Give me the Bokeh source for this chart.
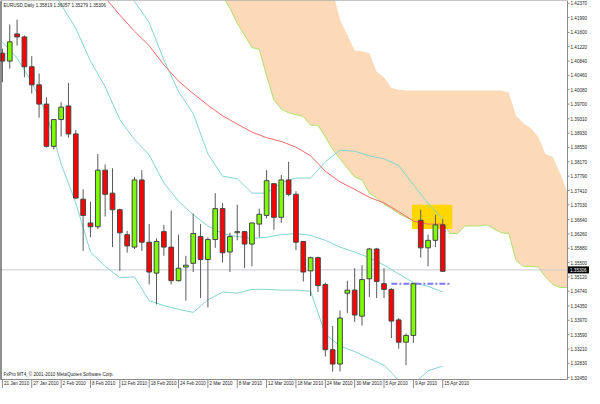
from bokeh.plotting import figure
from bokeh.models import Range1d, ColumnDataSource
from bokeh.core.properties import value
from bokeh.embed import file_html
from bokeh.resources import INLINE

# ---------------- data ----------------
symbol_title = "EURUSD,Daily  1.35819 1.36057 1.35279 1.35306"
copyright_text = "FxPro MT4, \u00a9 2001-2010 MetaQuotes Software Corp."
bid = 1.35306

date_labels = ["21 Jan 2010", "27 Jan 2010", "2 Feb 2010", "8 Feb 2010", "12 Feb 2010",
               "18 Feb 2010", "24 Feb 2010", "2 Mar 2010", "8 Mar 2010", "12 Mar 2010",
               "18 Mar 2010", "24 Mar 2010", "30 Mar 2010", "5 Apr 2010", "9 Apr 2010",
               "15 Apr 2010"]
date_ticks = [0, 4, 8, 12, 16, 20, 24, 28, 32, 36, 40, 44, 48, 52, 56, 60]

price_ticks = [1.42370, 1.41990, 1.41600, 1.41220, 1.40840, 1.40460, 1.40080, 1.39700,
               1.39310, 1.38930, 1.38550, 1.38170, 1.37790, 1.37410, 1.37030, 1.36640,
               1.36260, 1.35880, 1.35500, 1.35120, 1.34740, 1.34350, 1.33970, 1.33590,
               1.33210, 1.32830, 1.32450]

opens = [1.4105, 1.4084, 1.4156, 1.4148, 1.4069, 1.4021, 1.3970, 1.3858, 1.3929, 1.3965,
         1.3891, 1.3718, 1.3655, 1.3645, 1.3795, 1.3734, 1.3690, 1.3624, 1.3591, 1.3769,
         1.3604, 1.3522, 1.3632, 1.3591, 1.3502, 1.3538, 1.3548, 1.3619, 1.3558, 1.3611,
         1.3693, 1.3578, 1.3629, 1.3632, 1.3599, 1.3652, 1.3675, 1.3759, 1.3670, 1.3769,
         1.3731, 1.3606, 1.3528, 1.3563, 1.3492, 1.3319, 1.3281, 1.3469, 1.3477, 1.3408,
         1.3507, 1.3586, 1.3494, 1.3479, 1.3398, 1.3339, 1.3357, 1.3662, 1.3589, 1.3609,
         1.3650]
highs = [1.4117, 1.4181, 1.4194, 1.4152, 1.4097, 1.4051, 1.3988, 1.3930, 1.3975, 1.4026,
         1.3901, 1.3744, 1.3711, 1.3838, 1.3810, 1.3800, 1.3693, 1.3634, 1.3777, 1.3795,
         1.3652, 1.3614, 1.3650, 1.3688, 1.3624, 1.3568, 1.3680, 1.3652, 1.3617, 1.3734,
         1.3708, 1.3629, 1.3703, 1.3634, 1.3655, 1.3693, 1.3795, 1.3760, 1.3782, 1.3817,
         1.3739, 1.3607, 1.3566, 1.3566, 1.3497, 1.3382, 1.3423, 1.3502, 1.3535, 1.3543,
         1.3589, 1.3589, 1.3535, 1.3482, 1.3403, 1.3362, 1.3494, 1.3690, 1.3624, 1.3677,
         1.3665]
lows = [1.4028, 1.4064, 1.4125, 1.4041, 1.3998, 1.3934, 1.3855, 1.3850, 1.3884, 1.3881,
        1.3718, 1.3581, 1.3617, 1.3639, 1.3672, 1.3591, 1.3528, 1.3576, 1.3586, 1.3581,
        1.3492, 1.3439, 1.3568, 1.3492, 1.3500, 1.3449, 1.3525, 1.3456, 1.3431, 1.3589,
        1.3550, 1.3525, 1.3609, 1.3535, 1.3540, 1.3617, 1.3667, 1.3637, 1.3655, 1.3726,
        1.3583, 1.3500, 1.3461, 1.3472, 1.3301, 1.3261, 1.3261, 1.3416, 1.3393, 1.3383,
        1.3459, 1.3456, 1.3456, 1.3350, 1.3322, 1.3278, 1.3337, 1.3563, 1.3540, 1.3591,
        1.3525]
closes = [1.4084, 1.4135, 1.4148, 1.4069, 1.4021, 1.3970, 1.3858, 1.3929, 1.3962, 1.3891,
          1.3721, 1.3675, 1.3645, 1.3795, 1.3731, 1.3690, 1.3629, 1.3594, 1.3769, 1.3604,
          1.3525, 1.3606, 1.3591, 1.3502, 1.3535, 1.3543, 1.3627, 1.3558, 1.3611, 1.3693,
          1.3576, 1.3619, 1.3632, 1.3599, 1.3655, 1.3678, 1.3767, 1.3670, 1.3769, 1.3731,
          1.3604, 1.3525, 1.3563, 1.3489, 1.3319, 1.3281, 1.3403, 1.3477, 1.3411, 1.3505,
          1.3586, 1.3500, 1.3479, 1.3395, 1.3339, 1.3357, 1.3494, 1.3589, 1.3609, 1.3650,
          1.3527]

nan = float("nan")
band_idx = [0, 2, 4, 6, 8, 10, 12, 14, 16, 18, 20, 22, 24, 26, 28, 30,
            32, 34, 36, 38, 40, 42, 44, 46, 48, 50, 52, 54, 56, 58, 60]
bb_lower = [1.4135, 1.4092, 1.4028, 1.3945, 1.3812, 1.3708, 1.3578, 1.3540, 1.3510, 1.3512,
            1.3449, 1.3436, 1.3426, 1.3418, 1.3451, 1.3472, 1.3469, 1.3479, 1.3479, 1.3477,
            1.3477, 1.3474, 1.3360, 1.3329, 1.3314, 1.3296, 1.3278, 1.3238, 1.3227, 1.3263,
            1.3276]
bb_middle = [nan, nan, nan, 1.4296, 1.4234, 1.4171, 1.4084, 1.4016, 1.3929, 1.3876,
             1.3835, 1.3761, 1.3713, 1.3677, 1.3647, 1.3627, 1.3619, 1.3614, 1.3617, 1.3624,
             1.3627, 1.3622, 1.3609, 1.3591, 1.3578, 1.3563, 1.3543, 1.3520, 1.3497, 1.3487,
             1.3472]
bb_upper = [nan, nan, nan, nan, nan, nan, nan, nan, 1.4296, 1.4242,
            1.4186, 1.4087, 1.4003, 1.3945, 1.3838, 1.3779, 1.3772, 1.3734, 1.3734, 1.3761,
            1.3774, 1.3774, 1.3817, 1.3848, 1.3845, 1.3833, 1.3825, 1.3807, 1.3756, 1.3708,
            1.3665]
ma_red = [nan, nan, nan, nan, nan, nan, nan, 1.4252, 1.4206, 1.4163,
          1.4125, 1.4074, 1.4031, 1.3998, 1.3967, 1.3939, 1.3917, 1.3896, 1.3881, 1.3871,
          1.3856, 1.3833, 1.3792, 1.3764, 1.3744, 1.3723, 1.3708, 1.3685, 1.3660, 1.3652,
          1.3652]

cloud_idx = [30, 31, 32, 33, 34, 35, 36, 37, 38, 39, 40, 41, 42, 43, 44, 45,
             46, 47, 48, 49, 50, 51, 52, 53, 54, 55, 56, 57, 58, 59, 60, 61,
             62, 63, 64, 65, 66, 67, 68, 69, 70, 71, 72, 73, 74, 75, 76, 77]
cloud_lower = [1.4257, 1.4224, 1.4184, 1.4153, 1.4120, 1.4115, 1.4046, 1.3980, 1.3957, 1.3947,
               1.3942, 1.3937, 1.3914, 1.3914, 1.3883, 1.3850, 1.3825, 1.3800, 1.3777, 1.3769,
               1.3734, 1.3721, 1.3705, 1.3693, 1.3680, 1.3670, 1.3662, 1.3660, 1.3660, 1.3660,
               1.3657, 1.3627, 1.3627, 1.3647, 1.3647, 1.3647, 1.3650, 1.3639, 1.3629, 1.3627,
               1.3555, 1.3540, 1.3540, 1.3538, 1.3512, 1.3492, 1.3484, 1.3484]
cloud_upper = [1.4300, 1.4300, 1.4300, 1.4300, 1.4300, 1.4300, 1.4300, 1.4300, 1.4300, 1.4300,
               1.4300, 1.4300, 1.4300, 1.4300, 1.4300, 1.4270, 1.4194, 1.4153, 1.4112, 1.4110,
               1.4105, 1.4056, 1.4041, 1.4013, 1.4008, 1.4006, 1.4006, 1.4006, 1.4006, 1.4006,
               1.4006, 1.4006, 1.4006, 1.4006, 1.4006, 1.4006, 1.4006, 1.4006, 1.4006, 1.4001,
               1.3939, 1.3919, 1.3906, 1.3884, 1.3838, 1.3830, 1.3787, 1.3736]

gap_bar = 56  # close of this bar marked by the dashed blue level line

# ---------------- layout (MT4 style: price scale on the right, dates below) ----------------
W, H = 590, 388
RIGHT_STRIP, BOTTOM_STRIP = 23, 9           # pixels for the scales
x_start, x_chart_end = -0.26, 77.0
y_chart_bottom, y_end = 1.32401, 1.42446
px_x = (x_chart_end - x_start) / (W - RIGHT_STRIP)      # bars per pixel
px_y = (y_end - y_chart_bottom) / (H - BOTTOM_STRIP)    # price per pixel
x_total_end = x_chart_end + RIGHT_STRIP * px_x
y_total_start = y_chart_bottom - BOTTOM_STRIP * px_y

FONT = value("Liberation Sans")
FS = value("4.6px")
TXT = "#262626"
AXIS = "#8c8c8c"

p = figure(width=W, height=H, output_backend="svg", toolbar_location=None,
           x_range=Range1d(x_start, x_total_end), y_range=Range1d(y_total_start, y_end),
           x_axis_location=None, y_axis_location=None,
           min_border_left=0, min_border_top=0, min_border_right=0, min_border_bottom=0)
p.xgrid.visible = False
p.ygrid.visible = False
p.outline_line_color = None
p.background_fill_color = "white"
p.border_fill_color = "white"

# Ichimoku cloud
p.varea(x=cloud_idx, y1=cloud_lower, y2=cloud_upper, fill_color="#FCD9B7")
p.line(cloud_idx, cloud_lower, line_color="#ADE26A", line_width=1)

# highlight box (annotation)
p.quad(left=[55.8], right=[61.3], top=[1.3703], bottom=[1.3639],
       fill_color="#FFD700", line_color=None)

# Bollinger bands and moving average
for series in (bb_lower, bb_middle, bb_upper):
    p.line(band_idx, series, line_color="#82D5CD", line_width=1)
p.line(band_idx, ma_red, line_color="#F26B6B", line_width=1)

# bid line
p.segment(x0=[x_start], y0=[bid], x1=[x_chart_end], y1=[bid], line_color="#C6CCD3", line_width=1)

# level line at the close of the gap bar
p.line([53, 61], [closes[gap_bar], closes[gap_bar]], line_color="#7C7CF2",
       line_width=2, line_dash="6 2 2 2")

# candles
idx = list(range(len(opens)))
colors = ["#7CFC00" if c >= o else "#FF0000" for o, c in zip(opens, closes)]
src = ColumnDataSource(dict(
    x=idx, high=highs, low=lows,
    top=[max(o, c) for o, c in zip(opens, closes)],
    bottom=[min(o, c) for o, c in zip(opens, closes)],
    color=colors))
p.segment(x0="x", y0="high", x1="x", y1="low", source=src, line_color="#5a5a5a", line_width=1)
p.vbar(x="x", width=0.64, top="top", bottom="bottom", source=src,
       fill_color="color", line_color="#454545", line_width=1)

# white strips for the scales
p.quad(left=[x_chart_end], right=[x_total_end], bottom=[y_total_start], top=[y_end],
       fill_color="white", line_color=None)
p.quad(left=[x_start], right=[x_total_end], bottom=[y_total_start], top=[y_chart_bottom],
       fill_color="white", line_color=None)

# chart border / axis lines
p.segment(x0=[x_chart_end, x_start, x_start], y0=[y_chart_bottom, y_chart_bottom, y_end],
          x1=[x_chart_end, x_chart_end, x_chart_end], y1=[y_end, y_chart_bottom, y_end],
          line_color=AXIS, line_width=1)
p.segment(x0=[x_start], y0=[y_chart_bottom], x1=[x_start], y1=[y_end],
          line_color="#222222", line_width=2)

# price scale
p.segment(x0=[x_chart_end] * len(price_ticks), y0=price_ticks,
          x1=[x_chart_end + 2 * px_x] * len(price_ticks), y1=price_ticks,
          line_color=AXIS, line_width=1)
p.text(x=[x_chart_end + 3 * px_x] * len(price_ticks), y=price_ticks,
       text=[f"{v:.5f}" for v in price_ticks], text_font=FONT, text_font_size=FS,
       text_color=TXT, text_baseline="middle", text_align="left")

# bid marker on the price scale
p.rect(x=[x_chart_end + 11 * px_x], y=[bid], width=21, height=7,
       width_units="screen", height_units="screen", fill_color="black", line_color=None)
p.text(x=[x_chart_end + 2.5 * px_x], y=[bid], text=[f"{bid:.5f}"], text_font=FONT,
       text_font_size=FS, text_color="white", text_baseline="middle", text_align="left")

# date scale
p.segment(x0=date_ticks, y0=[y_chart_bottom] * len(date_ticks),
          x1=date_ticks, y1=[y_total_start] * len(date_ticks),
          line_color=AXIS, line_width=1)
p.text(x=[t + 1.5 * px_x for t in date_ticks], y=[y_chart_bottom - 1.5 * px_y] * len(date_ticks),
       text=date_labels, text_font=FONT, text_font_size=FS, text_color=TXT,
       text_baseline="top", text_align="left")

# header and footer texts
p.text(x=[x_start + 3 * px_x], y=[y_end - 2 * px_y], text=[symbol_title], text_font=FONT,
       text_font_size=FS, text_color=TXT, text_baseline="top", text_align="left")
p.text(x=[x_start + 3 * px_x], y=[y_chart_bottom + 3 * px_y], text=[copyright_text],
       text_font=FONT, text_font_size=FS, text_color=TXT, text_baseline="bottom",
       text_align="left")

open("out.html", "w").write(file_html(p, INLINE))
